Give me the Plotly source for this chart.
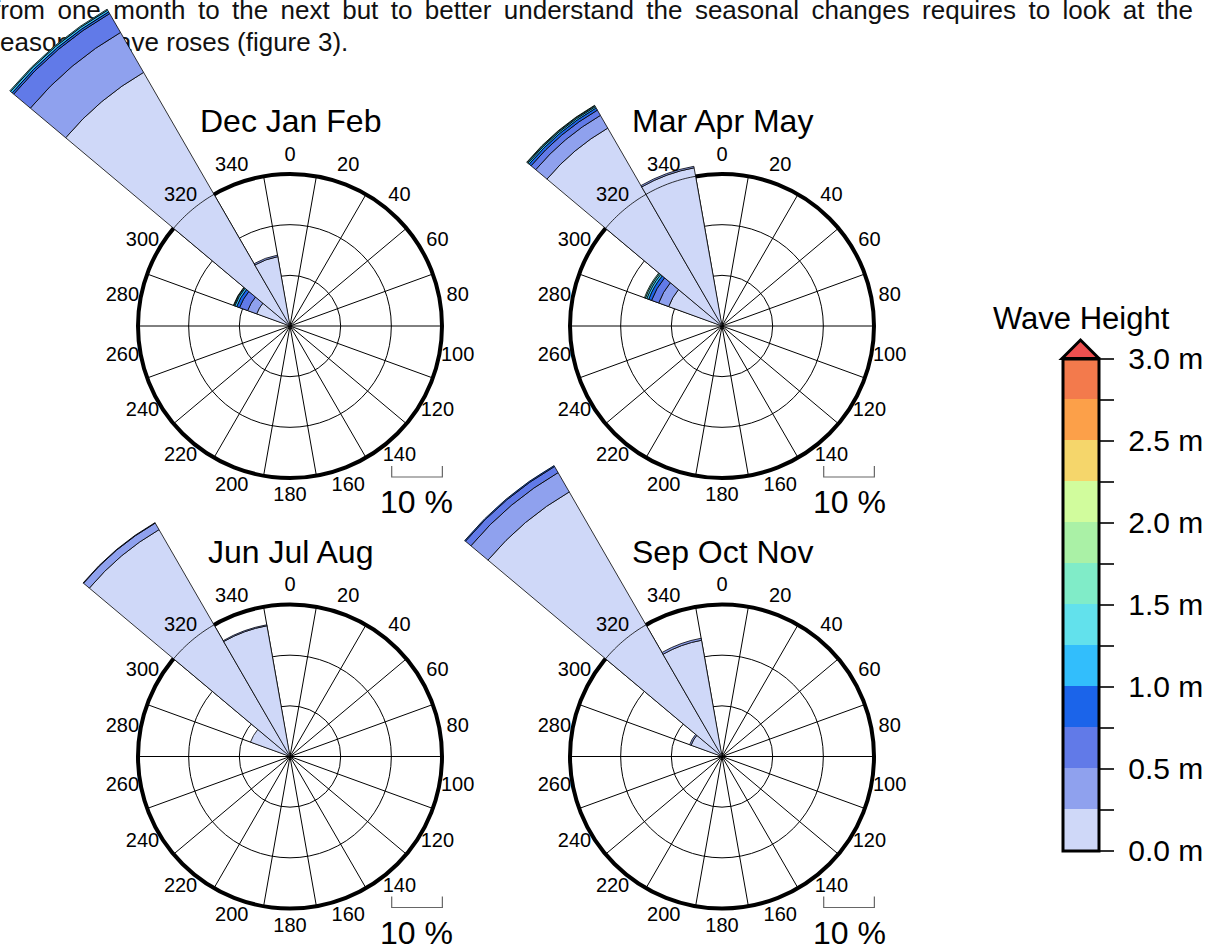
import math
import plotly.graph_objects as go

# ---------------- data ----------------
seasons = ["Dec Jan Feb", "Mar Apr May", "Jun Jul Aug", "Sep Oct Nov"]
directions = [300, 320, 340]          # bin centres (deg), 20 deg wide
bin_width = 20
height_edges = [0.0, 0.25, 0.5, 0.75, 1.0, 1.25, 1.5, 1.75, 2.0, 2.25, 2.5, 2.75, 3.0]
band_colors = ["#cfd8f8", "#8fa1ee", "#617ae8", "#1b64ea", "#32befc", "#62e1ec",
               "#80ecc8", "#aaf1a6", "#d1fc9d", "#f5d66b", "#fca049", "#f37a4c"]
over_color = "#ee5050"

# percent of time per wave-height band (0-0.25, 0.25-0.5, ... m)
djf_300 = [7.0, 1.9, 1.7, 0.6, 0.4, 0.2, 0.1, 0, 0, 0, 0, 0]
djf_320 = [57.8, 9.1, 4.3, 0.4, 0.4, 0.2, 0, 0, 0, 0, 0, 0]
djf_340 = [13.9, 0.3, 0, 0, 0, 0, 0, 0, 0, 0, 0, 0]
mam_300 = [11.2, 2.1, 1.5, 0.6, 0.4, 0.3, 0.2, 0, 0, 0, 0, 0]
mam_320 = [45.1, 2.9, 1.2, 0.5, 0.3, 0.2, 0.1, 0, 0, 0, 0, 0]
mam_340 = [31.7, 0.3, 0, 0, 0, 0, 0, 0, 0, 0, 0, 0]
jja_300 = [8.3, 0, 0, 0, 0, 0, 0, 0, 0, 0, 0, 0]
jja_320 = [51.7, 1.5, 0.1, 0, 0, 0, 0, 0, 0, 0, 0, 0]
jja_340 = [26.2, 0.2, 0, 0, 0, 0, 0, 0, 0, 0, 0, 0]
son_300 = [6.5, 0.3, 0, 0, 0, 0, 0, 0, 0, 0, 0, 0]
son_320 = [60.3, 4.4, 1.4, 0.2, 0, 0, 0, 0, 0, 0, 0, 0]
son_340 = [23.3, 0.4, 0, 0, 0, 0, 0, 0, 0, 0, 0, 0]

season_data = [
    [djf_300, djf_320, djf_340],
    [mam_300, mam_320, mam_340],
    [jja_300, jja_320, jja_340],
    [son_300, son_320, son_340],
]
angle_labels = list(range(0, 360, 20))
spoke_angles = list(range(10, 360, 20))
ring_values = [10, 20]
r_max = 30
label_r = 33.6
colorbar_ticks = [i * 0.25 for i in range(13)]
colorbar_ticktext = [(" " + f"{v:.1f} m") if i % 2 == 0 else "" for i, v in enumerate(colorbar_ticks)]

text_line1 = "from one month to the next but to better understand the seasonal changes requires to look at the"
text_line2 = "seasonal wave roses (figure 3)."

# ---------------- layout helpers ----------------
W, H = 1212, 947
FONT = "Liberation Sans, Arial, sans-serif"
R = 152                      # px radius of the 30 % circle
PPU = R / r_max              # px per percent
centers = [(290, 326), (722, 326), (290, 756.5), (722, 756.5)]


def X(px):
    return px / W


def Y(py):
    return 1 - py / H


def sector_bbox(s0, s1):
    arc = s1 - s0
    a0 = s0 % 360
    a1 = a0 + arc
    ax0, ay0 = math.cos(math.radians(a0)), math.sin(math.radians(a0))
    ax1, ay1 = math.cos(math.radians(a1)), math.sin(math.radians(a1))
    if (a0 <= 90 <= a1) or (a0 > 90 and a1 >= 450):
        y1 = 1
    elif ay0 <= 0 and ay1 <= 0:
        y1 = 0
    else:
        y1 = max(ay0, ay1)
    if (a0 <= 180 <= a1) or (a0 > 180 and a1 >= 540):
        x0 = -1
    elif ax0 >= 0 and ax1 >= 0:
        x0 = 0
    else:
        x0 = min(ax0, ax1)
    if (a0 <= 270 <= a1) or (a0 > 270 and a1 >= 630):
        y0 = -1
    elif ay0 >= 0 and ay1 >= 0:
        y0 = 0
    else:
        y0 = min(ay0, ay1)
    if a1 >= 360:
        x1 = 1
    elif ax0 <= 0 and ax1 <= 0:
        x1 = 0
    else:
        x1 = max(ax0, ax1)
    return x0, y0, x1, y1


fig = go.Figure()

# background text (cartesian layer is drawn under the polar layers)
spaced_line1 = text_line1.replace(" ", " \u2009")
fig.add_trace(go.Scatter(
    x=[-7, -13], y=[12, 44], mode="text", text=[spaced_line1, text_line2],
    textposition="middle right", textfont=dict(family=FONT, size=26, color="#111"),
    hoverinfo="skip", showlegend=False, xaxis="x", yaxis="y"))

# dummy trace carrying the colour bar
cs = []
n = len(band_colors)
for i, c in enumerate(band_colors):
    cs.append([i / n, c])
    cs.append([(i + 1) / n, c])
fig.add_trace(go.Scatter(
    x=[-500, -500], y=[-500, -500], mode="markers", hoverinfo="skip", showlegend=False,
    marker=dict(color=[0, 3], cmin=0, cmax=3, colorscale=cs, size=1, showscale=True,
                colorbar=dict(
                    x=X(1063), xanchor="left", xpad=0, ypad=0,
                    y=Y(604.5), yanchor="middle", len=492, lenmode="pixels",
                    thickness=36, outlinewidth=3, outlinecolor="black",
                    tickvals=colorbar_ticks, ticktext=colorbar_ticktext,
                    ticks="outside", ticklen=14, tickwidth=1.5, tickcolor="#333",
                    tickfont=dict(family=FONT, size=30, color="black"))),
    xaxis="x", yaxis="y"))

annotations = []
shapes = []
pcount = [0]


def new_polar_id():
    pcount[0] += 1
    return "polar" if pcount[0] == 1 else f"polar{pcount[0]}"


for si, name in enumerate(seasons):
    cx, cy = centers[si]
    data = season_data[si]

    # --- frame: rings, spokes, thick outer circle ---
    pid = new_polar_id()
    fig.add_trace(go.Scatterpolar(r=[0], theta=[0], mode="markers", marker=dict(opacity=0),
                                  showlegend=False, hoverinfo="skip", subplot=pid))
    fig.layout[pid] = dict(
        domain=dict(x=[X(cx - R), X(cx + R)], y=[Y(cy + R), Y(cy - R)]),
        bgcolor="rgba(0,0,0,0)",
        radialaxis=dict(range=[0, r_max], tickvals=ring_values, showticklabels=False,
                        ticks="", showline=False, showgrid=True, gridcolor="black",
                        gridwidth=0.8),
        angularaxis=dict(rotation=90, direction="clockwise", tickvals=spoke_angles,
                         showticklabels=False, ticks="", showgrid=True, gridcolor="black",
                         gridwidth=0.9, showline=True, linecolor="black", linewidth=4),
    )

    # --- one sector subplot per direction bin (same centre and px/% scale) ---
    for di, theta in enumerate(directions):
        vals = data[di]
        total = sum(vals)
        if total <= 0:
            continue
        rng = total + 0.6
        rpx = rng * PPU
        s0 = (90 - (theta + bin_width / 2)) % 360 - 1
        s1 = s0 + bin_width + 2
        bx0, by0, bx1, by1 = sector_bbox(s0, s1)
        pid = new_polar_id()
        for k in range(len(band_colors)):
            if vals[k] <= 0:
                continue
            fig.add_trace(go.Barpolar(
                r=[vals[k]], theta=[theta], width=[bin_width],
                marker=dict(color=band_colors[k], line=dict(color="black", width=0.8)),
                name=f"{height_edges[k]:.2f}-{height_edges[k + 1]:.2f} m",
                showlegend=False, subplot=pid, hoverinfo="skip"))
        fig.layout[pid] = dict(
            domain=dict(x=[X(cx + rpx * bx0), X(cx + rpx * bx1)],
                        y=[Y(cy - rpx * by0), Y(cy - rpx * by1)]),
            sector=[s0, s1], bgcolor="rgba(0,0,0,0)", barmode="stack",
            radialaxis=dict(range=[0, rng], visible=False),
            angularaxis=dict(rotation=90, direction="clockwise", visible=False),
        )

    # --- labels and thin outer circle above the bars ---
    pid = new_polar_id()
    lr = 37
    lpx = lr * PPU
    fig.add_trace(go.Scatterpolar(
        r=[r_max] * 361, theta=list(range(361)), mode="lines",
        line=dict(color="black", width=0.8), showlegend=False, hoverinfo="skip", subplot=pid))
    fig.add_trace(go.Scatterpolar(
        r=[label_r] * len(angle_labels), theta=angle_labels, mode="text",
        text=[str(a) for a in angle_labels], textposition="middle center",
        textfont=dict(family=FONT, size=20, color="black"), cliponaxis=False,
        showlegend=False, hoverinfo="skip", subplot=pid))
    fig.layout[pid] = dict(
        domain=dict(x=[X(cx - lpx), X(cx + lpx)], y=[Y(cy + lpx), Y(cy - lpx)]),
        bgcolor="rgba(0,0,0,0)",
        radialaxis=dict(range=[0, lr], visible=False),
        angularaxis=dict(rotation=90, direction="clockwise", visible=False),
    )

    annotations.append(dict(
        x=X(cx), y=Y(cy - 205), xref="paper", yref="paper", text=name, showarrow=False,
        xanchor="center", yanchor="middle", font=dict(family=FONT, size=32, color="black")))
    # 10 % scale bar
    x0, x1, yb = cx + 101.7, cx + 101.7 + 10 * PPU, cy + 151
    shapes.append(dict(type="path", xref="paper", yref="paper",
                       path=f"M{X(x0)},{Y(yb - 11)} L{X(x0)},{Y(yb)} L{X(x1)},{Y(yb)} L{X(x1)},{Y(yb - 11)}",
                       line=dict(color="#666", width=1.2)))
    annotations.append(dict(
        x=X(cx + 127), y=Y(cy + 176), xref="paper", yref="paper", text="10 %",
        showarrow=False, xanchor="center", yanchor="middle",
        font=dict(family=FONT, size=32, color="black")))

# colour bar title and over-range triangle
annotations.append(dict(x=X(1081), y=Y(318), xref="paper", yref="paper", text="Wave Height",
                        showarrow=False, xanchor="center", yanchor="middle",
                        font=dict(family=FONT, size=31, color="black")))
shapes.append(dict(type="path", xref="paper", yref="paper",
                   path=f"M{X(1062)},{Y(358.5)} L{X(1080.5)},{Y(340)} L{X(1099)},{Y(358.5)} Z",
                   fillcolor=over_color, line=dict(color="black", width=3)))

fig.update_layout(
    width=W, height=H, margin=dict(l=0, r=0, t=0, b=0),
    paper_bgcolor="white", plot_bgcolor="rgba(0,0,0,0)",
    xaxis=dict(range=[0, W], visible=False, domain=[0, 1], fixedrange=True),
    yaxis=dict(range=[H, 0], visible=False, domain=[0, 1], fixedrange=True),
    annotations=annotations, shapes=shapes, showlegend=False,
    font=dict(family=FONT),
)

fig.write_html("out.html", config={"displayModeBar": False},
               post_script="document.body.style.margin='0px';")
